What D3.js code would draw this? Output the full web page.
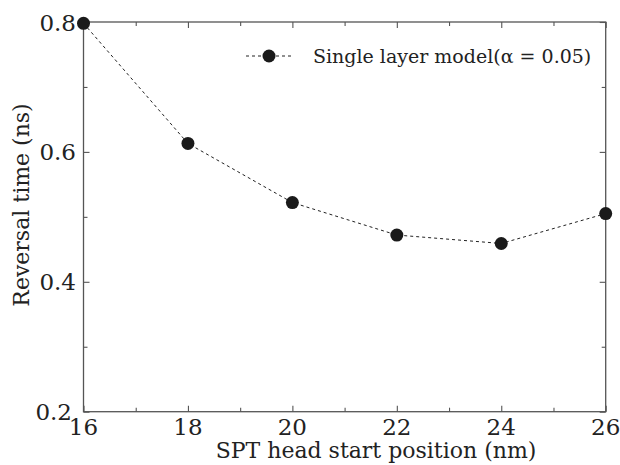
<!DOCTYPE html>
<html><head><meta charset="utf-8">
<script src="https://cdn.jsdelivr.net/npm/d3@7"></script>
<style>body{margin:0;background:#fff}svg{display:block}</style>
</head><body>
<svg id="c" width="620" height="465"></svg>
<script>
const positions = [16, 18, 20, 22, 24, 26];
const reversalTime = [0.798, 0.613, 0.522, 0.472, 0.459, 0.505];
const xTicks = [16, 18, 20, 22, 24, 26];
const xMinor = [17, 19, 21, 23, 25];
const yTicks = [0.2, 0.4, 0.6, 0.8];
const yMinor = [0.3, 0.5, 0.7];
const legendLabel = "Single layer model(\u03B1 = 0.05)";
const xTitle = "SPT head start position (nm)";
const yTitle = "Reversal time (ns)";

const L = 83.5, R = 605.7, T = 22, B = 411.7;
const svg = d3.select("#c");
const x = d3.scaleLinear().domain([16, 26]).range([L, R]);
const y = d3.scaleLinear().domain([0.2, 0.8]).range([B, T]);
const font = '"DejaVu Serif", "Liberation Serif", serif';
const axisColor = "#555";

svg.append("rect").attr("x", L).attr("y", T).attr("width", R - L).attr("height", B - T)
  .attr("fill", "none").attr("stroke", axisColor).attr("stroke-width", 1.3);

function ticks(tr, gen, vals, len) {
  const g = svg.append("g").attr("transform", tr).call(gen.tickValues(vals).tickSize(len).tickFormat(""));
  g.select(".domain").remove();
  g.selectAll("line").attr("stroke", axisColor).attr("stroke-width", 1.1);
}
ticks(`translate(0,${B})`, d3.axisTop(x), xTicks, 6);
ticks(`translate(0,${B})`, d3.axisTop(x), xMinor, 4);
ticks(`translate(0,${T})`, d3.axisBottom(x), xTicks, 6);
ticks(`translate(0,${T})`, d3.axisBottom(x), xMinor, 4);
ticks(`translate(${L},0)`, d3.axisRight(y), yTicks, 6);
ticks(`translate(${L},0)`, d3.axisRight(y), yMinor, 4);
ticks(`translate(${R},0)`, d3.axisLeft(y), yTicks, 6);
ticks(`translate(${R},0)`, d3.axisLeft(y), yMinor, 4);

svg.append("g").selectAll("text").data(xTicks).join("text")
  .attr("x", d => x(d)).attr("y", 435).attr("text-anchor", "middle")
  .style("font-family", font).style("font-size", "23px").attr("fill", "#222").text(d => d);
svg.append("g").selectAll("text").data(yTicks).join("text")
  .attr("x", d => d === 0.2 ? 72 : 76).attr("y", d => y(d) + 8.5).attr("text-anchor", "end")
  .style("font-family", font).style("font-size", "23px").attr("fill", "#222").text(d => d.toFixed(1));

svg.append("text").attr("x", 376).attr("y", 458).attr("text-anchor", "middle")
  .style("font-family", font).style("font-size", "22px").attr("fill", "#222").text(xTitle);
svg.append("text").attr("transform", "translate(29,205) rotate(-90)").attr("text-anchor", "middle")
  .style("font-family", font).style("font-size", "22px").attr("fill", "#222").text(yTitle);

const line = d3.line().x((d, i) => x(positions[i])).y(d => y(d));
svg.append("path").datum(reversalTime).attr("d", line).attr("fill", "none")
  .attr("stroke", "#222").attr("stroke-width", 1).attr("stroke-dasharray", "3,3");
svg.append("g").selectAll("circle").data(reversalTime).join("circle")
  .attr("cx", (d, i) => x(positions[i])).attr("cy", d => y(d)).attr("r", 6.5).attr("fill", "#1a1a1a");

const lg = svg.append("g");
lg.append("line").attr("x1", 246).attr("x2", 292).attr("y1", 56).attr("y2", 56)
  .attr("stroke", "#222").attr("stroke-width", 1).attr("stroke-dasharray", "3,3");
lg.append("circle").attr("cx", 269).attr("cy", 56).attr("r", 6.5).attr("fill", "#1a1a1a");
lg.append("text").attr("x", 313).attr("y", 63)
  .style("font-family", font).style("font-size", "19px")
  .attr("fill", "#222").text(legendLabel);
</script>
</body></html>
